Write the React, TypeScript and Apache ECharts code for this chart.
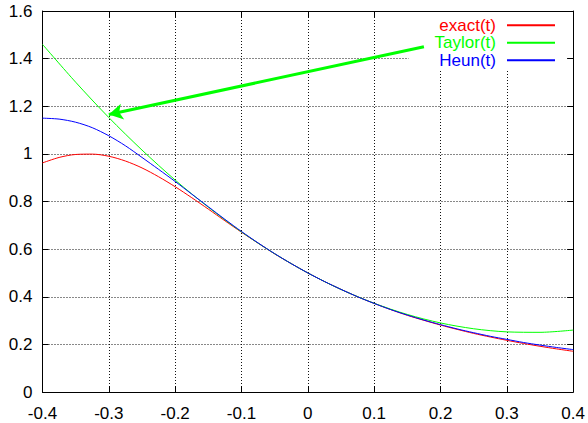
import React, { useEffect, useRef } from "react";
import * as echarts from "echarts";

const tExact: number[] = [-0.4, -0.375, -0.35, -0.325, -0.3, -0.275, -0.25, -0.225, -0.2, -0.175, -0.15, -0.125, -0.1, -0.075, -0.05, -0.025, 0, 0.025, 0.05, 0.075, 0.1, 0.125, 0.15, 0.175, 0.2, 0.225, 0.25, 0.275, 0.3, 0.325, 0.35, 0.375, 0.4];
const exactVals: number[] = [0.962, 0.985, 0.9975, 0.999, 0.99, 0.97, 0.941, 0.904, 0.862, 0.816, 0.768, 0.719, 0.671, 0.625, 0.58, 0.539, 0.5, 0.464, 0.431, 0.4, 0.372, 0.346, 0.322, 0.301, 0.281, 0.263, 0.246, 0.231, 0.217, 0.204, 0.192, 0.181, 0.171];
const heunVals: number[] = [1.15, 1.146, 1.133, 1.11, 1.076, 1.034, 0.985, 0.935, 0.884, 0.831, 0.778, 0.725, 0.674, 0.626, 0.581, 0.539, 0.5, 0.464, 0.431, 0.4, 0.372, 0.346, 0.323, 0.302, 0.283, 0.265, 0.249, 0.234, 0.221, 0.208, 0.197, 0.187, 0.178];
const tTaylor: number[] = [-0.4, -0.35, -0.3, -0.25, -0.2, -0.15, -0.1, -0.05, 0, 0.05, 0.1, 0.15, 0.2, 0.25, 0.3, 0.35, 0.4];
const taylorVals: number[] = [1.46, 1.301, 1.1525, 1.016, 0.89, 0.776, 0.6725, 0.5806, 0.5, 0.4306, 0.3725, 0.3256, 0.29, 0.2656, 0.2525, 0.2506, 0.26];
const seriesNames: string[] = ["exact(t)", "Taylor(t)", "Heun(t)"];
const seriesColors: string[] = ["#ff0000", "#00ff00", "#0000ff"];
const arrowFrom: number[] = [0.175, 1.45];
const arrowTo: number[] = [-0.3, 1.165];

const FONT = "'Liberation Sans', Arial, Helvetica, sans-serif";

const fmt = (v: number) => {
  const r = Math.round(v * 10) / 10;
  return String(r === 0 ? 0 : r);
};

export default function App() {
  const ref = useRef<HTMLDivElement>(null);
  useEffect(() => {
    if (!ref.current) return;
    const chart = echarts.init(ref.current, undefined, { renderer: "svg" });
    const axisLine = { show: true, onZero: false, lineStyle: { color: "#000", width: 1 } };
    const tick = { show: true, inside: true, length: 6, lineStyle: { color: "#000" } };
    const split = { show: true, lineStyle: { color: "#111", width: 1, type: [1, 2] } };
    const lbl = { color: "#000", fontSize: 17, fontFamily: FONT };
    chart.setOption({
      animation: false,
      backgroundColor: "#fff",
      grid: { left: 42.5, right: 12, top: 11, bottom: 31, containLabel: false },
      xAxis: [
        { type: "value", position: "bottom", min: -0.4, max: 0.4, interval: 0.1, axisLine, axisTick: tick, splitLine: split, axisLabel: { ...lbl, margin: 13, formatter: fmt } },
        { type: "value", position: "top", min: -0.4, max: 0.4, interval: 0.1, axisLine, axisTick: tick, splitLine: { show: false }, axisLabel: { show: false } },
      ],
      yAxis: [
        { type: "value", position: "left", min: 0, max: 1.6, interval: 0.2, axisLine, axisTick: tick, splitLine: split, axisLabel: { ...lbl, margin: 10, formatter: fmt } },
        { type: "value", position: "right", min: 0, max: 1.6, interval: 0.2, axisLine, axisTick: tick, splitLine: { show: false }, axisLabel: { show: false } },
      ],
      legend: {
        orient: "vertical",
        right: 22,
        top: 12,
        align: "right",
        itemWidth: 48,
        itemHeight: 14,
        itemGap: 0,
        padding: [4.5, 10, 0, 26],
        backgroundColor: "#fff",
        z: 3,
        selectedMode: false,
        itemStyle: { opacity: 0 },
        data: seriesNames.map((n, i) => ({ name: n, textStyle: { color: seriesColors[i] } })),
        textStyle: { fontSize: 17, lineHeight: 17.5, fontFamily: FONT, padding: [0, 6, 0, 0] },
      },
      series: [
        {
          name: seriesNames[0], type: "line", symbol: "none", smooth: 0.3,
          lineStyle: { color: seriesColors[0], width: 1 }, itemStyle: { color: seriesColors[0] },
          data: tExact.map((t, i) => [t, exactVals[i]]),
        },
        {
          name: seriesNames[1], type: "line", symbol: "none", smooth: 0.3,
          lineStyle: { color: seriesColors[1], width: 1 }, itemStyle: { color: seriesColors[1] },
          data: tTaylor.map((t, i) => [t, taylorVals[i]]),
          markLine: {
            silent: true,
            z: 10,
            symbol: ["none", "arrow"],
            symbolSize: [12, 14],
            label: { show: false },
            lineStyle: { color: seriesColors[1], width: 3, type: "solid" },
            data: [[{ coord: arrowFrom }, { coord: arrowTo }]],
          },
        },
        {
          name: seriesNames[2], type: "line", symbol: "none", smooth: 0.3,
          lineStyle: { color: seriesColors[2], width: 1 }, itemStyle: { color: seriesColors[2] },
          data: tExact.map((t, i) => [t, heunVals[i]]),
        },
      ],
    });
    return () => chart.dispose();
  }, []);
  return <div ref={ref} style={{ position: "fixed", left: 0, top: 0, width: 588, height: 423 }} />;
}
